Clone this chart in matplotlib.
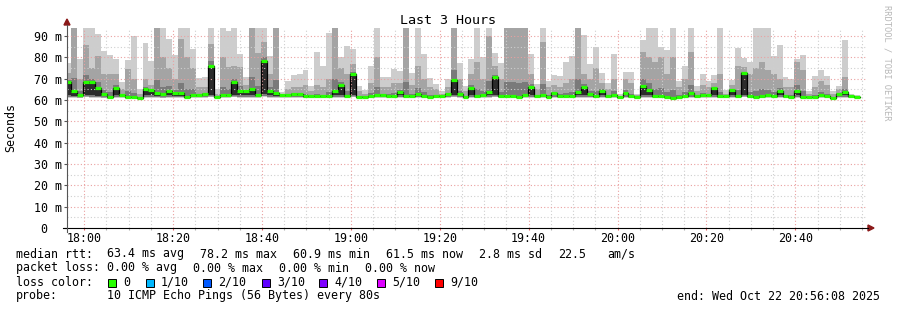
import matplotlib
matplotlib.use("Agg")
import matplotlib.pyplot as plt
from matplotlib.lines import Line2D
from matplotlib.patches import Polygon, Rectangle

# ---------------------------------------------------------------------------
# data (one value per 80 s sample, 17:56 -> 20:56)
# ---------------------------------------------------------------------------
rtt_top = [77.2, 93.8, 79.2, 93.8, 93.8, 91.0, 82.8, 81.1, 79.2, 68.3,
           78.7, 90.0, 65.2, 86.7, 78.4, 93.8, 93.8, 88.6, 81.3, 93.8,
           93.8, 83.9, 70.2, 70.6, 93.8, 65.0, 93.8, 92.5, 93.8, 81.6,
           70.6, 93.8, 93.8, 93.8, 80.5, 93.8, 63.6, 69.1, 71.7, 72.2,
           74.1, 66.7, 82.3, 76.1, 91.4, 93.8, 80.0, 85.5, 83.9, 66.7,
           64.8, 75.8, 93.8, 70.6, 70.6, 74.5, 73.7, 93.8, 72.5, 93.8,
           81.6, 70.3, 67.5, 64.0, 69.8, 93.8, 77.3, 66.7, 79.2, 93.8,
           80.0, 93.8, 82.0, 77.2, 93.8, 93.8, 93.8, 93.8, 81.6, 67.5,
           93.8, 69.1, 71.7, 71.4, 78.0, 80.5, 93.8, 90.6, 76.9, 85.0,
           72.5, 67.8, 81.6, 62.8, 73.3, 73.3, 63.0, 88.1, 93.8, 93.8,
           84.7, 83.5, 93.8, 69.1, 76.1, 93.8, 66.7, 72.2, 69.1, 71.9,
           93.8, 64.8, 69.4, 84.2, 79.5, 78.0, 93.8, 93.8, 93.8, 80.8,
           86.0, 70.6, 69.8, 79.2, 81.1, 64.4, 71.4, 74.2, 71.4, 64.4,
           66.7, 88.1, 62.8, 62.5]

rtt_mid = [72.5, 93.8, 70.0, 86.0, 75.0, 80.5, 72.0, 72.2, 72.2, 65.0,
           74.5, 70.0, 63.0, 70.0, 67.0, 93.8, 80.0, 75.0, 70.0, 88.6,
           80.0, 75.0, 66.0, 66.0, 86.3, 63.0, 80.0, 75.3, 76.0, 75.3,
           67.0, 93.8, 82.0, 87.0, 72.0, 93.8, 62.8, 65.0, 66.0, 66.0,
           67.0, 64.0, 67.0, 66.0, 70.0, 93.8, 75.0, 72.0, 77.1, 64.0,
           63.0, 68.0, 80.0, 66.0, 66.0, 68.0, 68.0, 93.8, 67.0, 76.0,
           70.0, 66.0, 65.0, 63.0, 66.0, 93.8, 70.0, 64.0, 72.0, 78.0,
           70.0, 90.0, 76.0, 70.0, 93.8, 93.8, 93.8, 93.8, 72.2, 65.0,
           87.0, 66.0, 67.0, 66.0, 68.0, 70.0, 93.8, 72.0, 70.0, 75.0,
           68.0, 65.0, 70.0, 62.0, 70.0, 68.0, 62.3, 82.3, 80.0, 78.0,
           80.0, 72.0, 80.0, 66.0, 70.0, 82.3, 64.0, 67.0, 66.0, 68.0,
           72.0, 63.0, 67.0, 76.0, 75.5, 72.0, 75.0, 78.0, 74.0, 72.0,
           70.0, 66.0, 66.0, 77.7, 74.0, 63.0, 66.0, 69.0, 67.0, 63.0,
           65.0, 71.0, 62.3, 62.0]

rtt_median = [68.6, 64.4, 62.5, 68.3, 68.3, 65.5, 62.7, 61.6, 65.6, 62.5,
              61.4, 61.6, 60.9, 65.3, 64.7, 63.3, 62.7, 64.4, 63.1, 63.1,
              61.6, 62.5, 62.2, 62.8, 76.1, 61.6, 62.5, 62.5, 68.3, 64.4,
              64.4, 65.3, 62.5, 78.2, 64.4, 63.1, 62.3, 62.3, 62.8, 62.8,
              61.7, 61.7, 62.0, 61.7, 62.0, 64.1, 67.0, 62.0, 72.2, 61.6,
              61.6, 62.0, 62.5, 62.3, 62.0, 61.9, 63.9, 61.9, 61.9, 62.8,
              61.9, 61.6, 61.9, 61.9, 62.8, 69.4, 62.8, 61.6, 65.5, 61.8,
              62.5, 63.9, 70.6, 62.0, 62.0, 61.9, 61.6, 62.3, 66.3, 61.9,
              62.5, 61.6, 63.1, 61.9, 61.9, 61.9, 63.6, 66.3, 62.8, 61.8,
              64.4, 61.9, 62.5, 61.3, 63.3, 61.7, 61.3, 66.7, 64.7, 61.9,
              61.8, 61.6, 60.9, 61.6, 61.9, 63.3, 61.9, 62.5, 62.2, 65.5,
              61.8, 61.8, 64.8, 61.9, 72.5, 61.9, 61.6, 61.9, 62.3, 61.9,
              64.4, 61.7, 61.6, 64.4, 61.6, 61.6, 61.6, 62.3, 61.9, 60.9,
              62.8, 63.6, 61.7, 61.5]

rtt_min = [61.0, 60.9, 60.8, 61.2, 61.0, 60.9, 60.8, 60.7, 61.0, 60.9,
           60.7, 60.8, 60.5, 61.0, 61.0, 60.9, 60.8, 61.0, 60.9, 60.9,
           60.8, 60.9, 60.9, 61.0, 61.2, 60.8, 60.9, 60.9, 61.2, 61.0,
           61.0, 61.0, 60.9, 61.5, 61.0, 60.9, 61.0, 61.0, 61.0, 61.0,
           60.8, 60.8, 60.9, 60.8, 60.9, 61.0, 61.0, 60.9, 61.2, 60.8,
           60.8, 60.9, 60.9, 61.0, 60.9, 60.9, 61.0, 60.9, 60.9, 61.0,
           60.9, 60.8, 60.9, 60.9, 61.0, 61.2, 61.0, 60.8, 61.0, 60.8,
           60.9, 61.0, 61.2, 60.9, 60.9, 60.9, 60.8, 60.9, 61.0, 60.9,
           60.9, 60.8, 61.0, 60.9, 60.9, 60.9, 61.0, 61.0, 61.0, 60.8,
           61.0, 60.9, 60.9, 60.6, 61.0, 60.8, 60.6, 61.0, 61.0, 60.9,
           60.8, 60.8, 60.4, 60.8, 60.9, 61.0, 60.9, 60.9, 61.0, 61.0,
           60.8, 60.8, 61.0, 60.9, 61.2, 60.9, 60.8, 60.9, 61.0, 60.9,
           61.0, 60.8, 60.8, 61.0, 60.8, 60.8, 60.8, 61.0, 60.9, 60.4,
           61.0, 61.0, 60.8, 60.8]

step_sec = 80
first_offset_min = -0.33          # first bin starts a hair before 17:56:08
start_time = "17:56:08"
span_min = 180
tick_labels = ["18:00", "18:20", "18:40", "19:00", "19:20", "19:40",
               "20:00", "20:20", "20:40"]
y_ticks = [0, 10, 20, 30, 40, 50, 60, 70, 80, 90]
y_labels = ["0  ", "10 m", "20 m", "30 m", "40 m", "50 m", "60 m",
            "70 m", "80 m", "90 m"]
y_max = 93.75

loss_labels = ["0", "1/10", "2/10", "3/10", "4/10", "5/10", "9/10"]
loss_colors = ["#26ff00", "#00b8ff", "#0059ff", "#5e00ff", "#7e00ff",
               "#dd00ff", "#ff0000"]

# ---------------------------------------------------------------------------
W, H = 897, 310
MONO = "DejaVu Sans Mono"
FS = 8.4
SMOKE = ["#cdcdcd", "#a4a4a4", "#7a7a7a", "#2b2b2b"]
MAJOR_GRID = "#eaa0a0"
MINOR_GRID = "#cfcfcf"
ARROW = "#8b1a1a"


def fx(px):
    return px / W


def fy(py):
    return 1 - py / H


def to_min(hhmm):
    parts = [int(p) for p in hhmm.split(":")]
    while len(parts) < 3:
        parts.append(0)
    return parts[0] * 60 + parts[1] + parts[2] / 60


t0 = to_min(start_time)
tick_pos = [to_min(t) - t0 for t in tick_labels]

fig = plt.figure(figsize=(W / 100, H / 100), dpi=100)
fig.patch.set_facecolor("white")
ax = fig.add_axes([fx(67), fy(228), 800 / W, 200 / H])
ax.set_xlim(0, span_min)
ax.set_ylim(0, y_max)
for s in ax.spines.values():
    s.set_visible(False)

# grid (minor every 5 min / 5 ms, major every 20 min / 10 ms)
minor_x = [p + d for p in [tick_pos[0] - 20] + tick_pos for d in (5, 10, 15)]
minor_x = [x for x in minor_x if 0 < x < span_min]
for x in minor_x:
    ax.axvline(x, color=MINOR_GRID, lw=0.8, ls=(0, (1, 2)), zorder=5)
for y in range(5, 95, 10):
    ax.axhline(y, color=MINOR_GRID, lw=0.8, ls=(0, (1, 2)), zorder=5)
for x in tick_pos:
    ax.axvline(x, color=MAJOR_GRID, lw=0.8, ls=(0, (1, 2)), zorder=5)
for y in y_ticks[1:]:
    ax.axhline(y, color=MAJOR_GRID, lw=0.8, ls=(0, (1, 2)), zorder=5)

# smoke
w = step_sec / 60
xs = [first_offset_min + k * w for k in range(len(rtt_median))]
for x, lo, top, mid, med in zip(xs, rtt_min, rtt_top, rtt_mid, rtt_median):
    ax.bar(x, top - lo, bottom=lo, width=w, align="edge", color=SMOKE[0], lw=0, zorder=2)
    ax.bar(x, mid - lo - 0.3, bottom=lo + 0.3, width=w, align="edge", color=SMOKE[1], lw=0, zorder=3)
    dark_top = med + 0.2 * (mid - med)
    ax.bar(x, dark_top - lo - 0.5, bottom=lo + 0.5, width=w, align="edge", color=SMOKE[2], lw=0, zorder=4)
    if med - lo > 1.4:
        ax.bar(x, med - lo - 1.2, bottom=lo + 1.2, width=w, align="edge", color=SMOKE[3], lw=0, zorder=4)

# median: black step + green level marks
ax.step(xs + [xs[-1] + w], rtt_median + [rtt_median[-1]], where="post",
        color="black", lw=0.9, zorder=6)
ax.hlines(rtt_median, xs, [x + w for x in xs], color=loss_colors[0],
          lw=2.3, zorder=7)

# ticks and labels
ax.set_xticks(tick_pos)
ax.set_xticklabels(tick_labels, fontfamily=MONO, fontsize=FS)
ax.set_xticks(minor_x, minor=True)
ax.set_yticks(y_ticks)
ax.set_yticklabels(y_labels, fontfamily=MONO, fontsize=FS)
ax.tick_params(axis="x", which="major", length=1.6, width=0.8, color="#e06060", pad=1.6)
ax.tick_params(axis="x", which="minor", length=1.6, width=0.8, color="#b0b0b0")
ax.tick_params(axis="y", length=2.2, width=0.8, color="#555555", pad=1.4)

# axis lines and arrows
fig.add_artist(Line2D([fx(63), fx(868)], [fy(228), fy(228)], color="black", lw=0.8))
fig.add_artist(Line2D([fx(67), fx(67)], [fy(232), fy(25)], color="#555555", lw=0.8))
fig.add_artist(Polygon([[fx(868), fy(225)], [fx(874), fy(228)], [fx(868), fy(231)]],
                       closed=True, color=ARROW, transform=fig.transFigure))
fig.add_artist(Polygon([[fx(64), fy(25)], [fx(67), fy(19)], [fx(70), fy(25)]],
                       closed=True, color=ARROW, transform=fig.transFigure))

# titles
fig.text(fx(448), fy(20), "Last 3 Hours", ha="center", va="center",
         fontfamily=MONO, fontsize=9.6)
fig.text(fx(11), fy(127), "Seconds", rotation=90, ha="center", va="center",
         fontfamily=MONO, fontsize=FS)
fig.text(fx(887), fy(5), "RRDTOOL / TOBI OETIKER", rotation=270, ha="center",
         va="top", fontfamily=MONO, fontsize=6.3, color="#b8b8b8")


# legend block
def t(px, py, s):
    fig.text(fx(px), fy(py), s, ha="left", va="center", fontfamily=MONO, fontsize=FS)


t(16, 254, "median rtt:")
t(107, 254, "63.4 ms avg")
t(200, 254, "78.2 ms max")
t(293, 254, "60.9 ms min")
t(386, 254, "61.5 ms now")
t(479, 254, "2.8 ms sd")
t(558, 254, "22.5")
t(607, 254, "am/s")

t(16, 268, "packet loss:")
t(107, 268, "0.00 % avg")
t(193, 268, "0.00 % max")
t(279, 268, "0.00 % min")
t(365, 268, "0.00 % now")

t(16, 282, "loss color:")
box_x = [108, 146, 203, 262, 319, 377, 435]
for bx, lab, col in zip(box_x, loss_labels, loss_colors):
    fig.add_artist(Rectangle((fx(bx), fy(286.5)), 8 / W, 8 / H, facecolor=col,
                             edgecolor="black", lw=0.7, transform=fig.transFigure))
    t(bx + 15, 282, lab)

t(16, 296, "probe:")
t(107, 296, "10 ICMP Echo Pings (56 Bytes) every 80s")
fig.text(fx(880), fy(296), "end: Wed Oct 22 20:56:08 2025", ha="right", va="center",
         fontfamily=MONO, fontsize=FS)

fig.savefig("out.png", dpi=100, facecolor="white")
